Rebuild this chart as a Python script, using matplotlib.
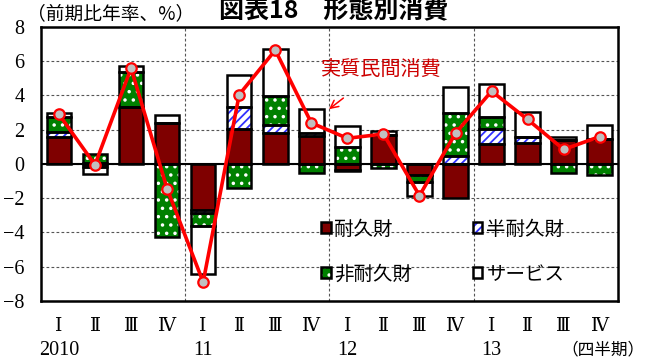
import numpy as np
import matplotlib
matplotlib.use("Agg")
import matplotlib.pyplot as plt
from matplotlib.patches import Patch
from matplotlib.legend_handler import HandlerTuple

JP = ['Noto Sans CJK JP', 'DejaVu Sans']
SERIF = ['Liberation Serif', 'DejaVu Serif', 'Noto Sans CJK JP']

plt.rcParams['hatch.linewidth'] = 1.3

quarters = ['Ⅰ', 'Ⅱ', 'Ⅲ', 'Ⅳ'] * 4
years = ['2010', '11', '12', '13']

# contributions to real private consumption, % pts (annualised q/q)
durable = [1.55, -0.15, 3.35, 2.40, -2.70, 2.05, 1.80, 1.65,
           -0.35, 1.70, -0.65, -2.00, 1.15, 1.20, 1.40, 1.45]
semi_durable = [0.30, 0.05, 0.00, 0.00, -0.15, 1.30, 0.45, 0.15,
                -0.05, 0.00, 0.00, 0.45, 0.90, 0.40, 0.00, 0.00]
non_durable = [0.90, 0.55, 2.05, -4.25, -0.75, -1.40, 1.70, -0.55,
               1.00, -0.25, -0.40, 2.55, 0.70, 0.00, -0.55, -0.65]
services = [0.25, -0.45, 0.30, 0.45, -2.80, 1.85, 2.75, 1.40,
            1.20, 0.20, -0.80, 1.50, 1.90, 1.45, 0.15, 0.85]
total = [2.9, -0.05, 5.6, -1.45, -6.9, 4.05, 6.65, 2.4,
         1.5, 1.75, -1.85, 1.8, 4.25, 2.6, 0.85, 1.6]

series = [
    ('耐久財', durable, '#7f0000', None, None),
    ('半耐久財', semi_durable, 'white', '////', '#3030ff'),
    ('非耐久財', non_durable, '#008000', '..', 'white'),
    ('サービス', services, 'white', None, None),
]

fig = plt.figure(figsize=(6.6, 3.6), dpi=100)
ax = fig.add_axes([0.062, 0.164, 0.874, 0.761])

x = np.arange(len(total))
width = 0.68
pos_bottom = np.zeros(len(x))
neg_bottom = np.zeros(len(x))
handles = {}
for name, vals, face, hatch, hcol in series:
    vals = np.array(vals)
    bottom = np.where(vals >= 0, pos_bottom, neg_bottom)
    ax.bar(x, vals, width, bottom=bottom, color=face, linewidth=0, zorder=2)
    if hatch:
        ax.bar(x, vals, width, bottom=bottom, fill=False, hatch=hatch,
               edgecolor=hcol, linewidth=0, zorder=2.1)
    ax.bar(x, vals, width, bottom=bottom, fill=False, edgecolor='black',
           linewidth=1.8, zorder=2.2)
    pos_bottom += np.where(vals >= 0, vals, 0)
    neg_bottom += np.where(vals < 0, vals, 0)
    h = [Patch(facecolor=face, linewidth=0)]
    if hatch:
        h.append(Patch(fill=False, hatch=hatch, edgecolor=hcol, linewidth=0))
    h.append(Patch(fill=False, edgecolor='black', linewidth=1.8))
    handles[name] = tuple(h)

ax.plot(x, total, color='red', lw=2.6, marker='o', ms=7.5,
        mfc='#c0c0c0', mec='red', mew=1.6, zorder=4)

ax.axhline(0, color='black', lw=1.5, zorder=2.5)
for xv in (3.5, 7.5, 11.5):
    ax.axvline(xv, color='#555555', lw=0.8, ls=(0, (2.5, 2)), zorder=1)
ax.yaxis.grid(True, color='#555555', lw=0.8, ls=(0, (2.5, 2)), zorder=1)
ax.set_axisbelow(True)

ax.set_xlim(-0.5, len(x) - 0.5)
ax.set_ylim(-8, 8)
ax.set_yticks(np.arange(-8, 9, 2))
ax.set_yticklabels([f'{v}'.replace('-', '−') for v in range(-8, 9, 2)],
                   family=SERIF, fontsize=14.5)
ax.set_xticks(x)
ax.set_xticklabels(quarters, family=SERIF, fontsize=13.5)
ax.tick_params(axis='both', length=0)
ax.tick_params(axis='y', pad=12)
ax.tick_params(axis='x', pad=12)
for s in ax.spines.values():
    s.set_linewidth(1.8)

trans = ax.get_xaxis_transform()
for i, yr in enumerate(years):
    ax.text(i * 4, -0.18, yr, transform=trans, ha='center', va='center',
            family=SERIF, fontsize=14.5)
ax.text(15.1, -0.18, '（四半期）', transform=trans, ha='center', va='center',
        family=JP, fontsize=12)

ax.annotate('', xy=(7.43, 3.1), xytext=(7.95, 3.95),
            arrowprops=dict(arrowstyle='->', color='red', lw=1.1,
                            mutation_scale=14), zorder=5)
ax.text(8.95, 5.5, '実質民間消費', color='#cc0000', family=JP, fontsize=14.5,
        ha='center', va='center', zorder=5)

# legend fills column by column
order = ['耐久財', '非耐久財', '半耐久財', 'サービス']
ax.legend([handles[k] for k in order], order, ncol=2, frameon=False,
          handler_map={tuple: HandlerTuple(ndivide=1, pad=0)},
          prop={'family': JP, 'size': 14}, loc='lower left',
          bbox_to_anchor=(0.455, -0.005), handlelength=0.5, handleheight=0.5,
          handletextpad=0.2, columnspacing=3.1, labelspacing=1.25)

fig.text(0.168, 0.963, '（前期比年率、%）', family=JP, fontsize=13.5,
         ha='center', va='center')
fig.text(0.505, 0.968, '図表18　形態別消費', family=JP, fontsize=18,
         fontweight='bold', ha='center', va='center')

fig.savefig('out.png', dpi=100)
